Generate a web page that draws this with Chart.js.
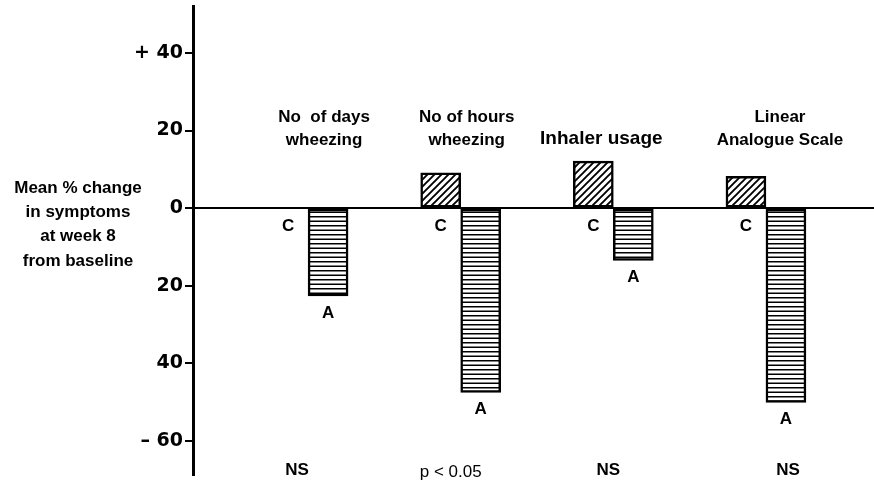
<!DOCTYPE html>
<html><head><meta charset="utf-8">
<script src="https://cdn.jsdelivr.net/npm/chart.js@4.4.1/dist/chart.umd.min.js"></script>
<style>html,body{margin:0;padding:0;background:#fff}#wrap{width:874px;height:483px}</style>
</head><body><div id="wrap"><canvas id="c" width="874" height="483"></canvas></div>
<script>
const categories = [["No  of days","wheezing"],["No of hours","wheezing"],["","Inhaler usage"],["Linear","Analogue Scale"]];
const seriesNames = ["C","A"];
const controlValues = [0, 9.1, 12.1, 8.2];
const activeValues = [-22.6, -47.5, -13.5, -50.1];
const significance = ["NS","p < 0.05","NS","NS"];
const yTickValues = [40,20,0,-20,-40,-60];
const yTickLabels = ["+ 40","20","0","20","40","\u2013 60"];
const yTitle = ["Mean % change","in symptoms","at week 8","from baseline"];

function diagPattern(){
  const c=document.createElement('canvas'); c.width=7; c.height=7;
  const g=c.getContext('2d'); g.fillStyle='#fff'; g.fillRect(0,0,7,7);
  g.strokeStyle='#000'; g.lineWidth=1.9; g.beginPath();
  g.moveTo(-1,8); g.lineTo(8,-1);
  g.moveTo(-1,1); g.lineTo(1,-1);
  g.moveTo(6,8); g.lineTo(8,6);
  g.stroke();
  return g.createPattern(c,'repeat');
}
function horizPattern(){
  const c=document.createElement('canvas'); c.width=4; c.height=9;
  const g=c.getContext('2d'); g.fillStyle='#fff'; g.fillRect(0,0,4,9);
  g.fillStyle='#000'; g.fillRect(0,0,4,1.5); g.fillRect(0,4.5,4,1.5);
  return g.createPattern(c,'repeat');
}

const BOLD='bold 17px "Liberation Sans", Arial, sans-serif';
const bg={id:'bg',beforeDraw(ch){const c=ch.ctx;c.save();c.fillStyle='#fff';c.fillRect(0,0,ch.width,ch.height);c.restore();}};
const annot={
  id:'annot',
  afterDatasetsDraw(ch){
    const ctx=ch.ctx, ys=ch.scales.y, xs=ch.scales.x;
    const zero=ys.getPixelForValue(0);
    const m0=ch.getDatasetMeta(0), m1=ch.getDatasetMeta(1);
    ctx.save(); ctx.fillStyle='#000'; ctx.textAlign='center'; ctx.textBaseline='middle';
    ctx.font=BOLD;
    m0.data.forEach(b=>ctx.fillText(seriesNames[0], b.x, zero+18));
    m1.data.forEach(b=>ctx.fillText(seriesNames[1], b.x, b.y+17));
    const titleDx=[16,6,-12,14];
    categories.forEach((lines,i)=>{
      const cx=xs.getPixelForValue(i+1)+titleDx[i];
      if(lines[0]){ ctx.font=BOLD; ctx.fillText(lines[0], cx, zero-91); ctx.fillText(lines[1], cx, zero-68); }
      else { ctx.font='bold 19px "Liberation Sans", Arial, sans-serif'; ctx.fillText(lines[1], cx, zero-69); }
    });
    const sigDx=[-11,-10,-5,22];
    significance.forEach((s,i)=>{
      const cx=xs.getPixelForValue(i+1)+sigDx[i];
      if(s.startsWith('p')){ ctx.font='17px "Liberation Sans", Arial, sans-serif'; ctx.fillText(s, cx, ch.chartArea.bottom-4); }
      else { ctx.font=BOLD; ctx.fillText(s, cx, ch.chartArea.bottom-6); }
    });
    ctx.font=BOLD;
    yTitle.forEach((t,k)=>ctx.fillText(t, 78, zero-20+24.3*k));
    ctx.restore();
  }
};

new Chart(document.getElementById('c'),{
  type:'bar',
  data:{datasets:[
    {label:seriesNames[0], data:controlValues.map((v,i)=>({x:i+1,y:v})), backgroundColor:diagPattern(), borderColor:'#000', borderWidth:2.5, borderSkipped:false},
    {label:seriesNames[1], data:activeValues.map((v,i)=>({x:i+1,y:v})), backgroundColor:horizPattern(), borderColor:'#000', borderWidth:2.5, borderSkipped:false}
  ]},
  options:{
    responsive:false, animation:false,
    layout:{padding:{top:5,bottom:6,left:0,right:0}},
    datasets:{bar:{barThickness:40,grouped:true}},
    plugins:{legend:{display:false},tooltip:{enabled:false}},
    scales:{
      x:{type:'linear', display:false, offset:false, min:0.246, max:4.708, grid:{display:false}},
      y:{min:-69.1, max:51.9,
        afterBuildTicks(s){s.ticks=yTickValues.map(v=>({value:v}));},
        afterFit(s){s.width=193;},
        border:{display:true,color:'#000',width:3},
        grid:{drawOnChartArea:true, color:c=>c.tick&&c.tick.value===0?'#000':'rgba(0,0,0,0)', lineWidth:c=>c.tick&&c.tick.value===0?2:0, tickColor:'#000', tickWidth:2, tickLength:8},
        ticks:{color:'#000', padding:2, font:{family:'"DejaVu Sans"', weight:'bold', size:19, lineHeight:0.5},
          callback:(v)=>{const k=yTickValues.indexOf(v);return k>=0?yTickLabels[k]:'';}}
      }
    }
  },
  plugins:[bg,annot]
});
</script></body></html>
